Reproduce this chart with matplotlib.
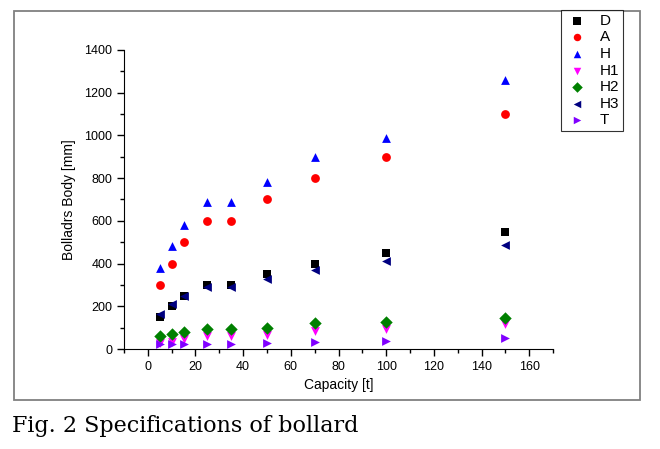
import matplotlib
matplotlib.use("Agg")
import matplotlib.pyplot as plt
from matplotlib.patches import Rectangle
from matplotlib.ticker import MultipleLocator

capacity = [5, 10, 15, 25, 35, 50, 70, 100, 150]
d_vals = [150, 200, 250, 300, 300, 350, 400, 450, 550]
a_vals = [300, 400, 500, 600, 600, 700, 800, 900, 1100]
h_vals = [380, 480, 580, 690, 690, 780, 900, 990, 1260]
h1_vals = [30, 35, 45, 62, 62, 65, 86, 92, 116]
h2_vals = [60, 70, 80, 95, 95, 100, 120, 125, 147]
h3_vals = [165, 210, 250, 290, 290, 330, 368, 410, 489]
t_vals = [22, 22, 22, 22, 25, 28, 31, 37, 50]

series = [
    ("D", d_vals, "s", "#000000"),
    ("A", a_vals, "o", "#ff0000"),
    ("H", h_vals, "^", "#0000ff"),
    ("H1", h1_vals, "v", "#ff00ff"),
    ("H2", h2_vals, "D", "#008000"),
    ("H3", h3_vals, "<", "#000080"),
    ("T", t_vals, ">", "#8000ff"),
]

plt.rcParams["font.family"] = ["Liberation Sans", "DejaVu Sans"]

fig = plt.figure(figsize=(6.6, 4.49), dpi=100)
fig.patches.append(Rectangle((14 / 660, 1 - 400 / 449), 626 / 660, 389 / 449,
                             transform=fig.transFigure, fill=False,
                             edgecolor="#808080", linewidth=1.3))

ax = fig.add_axes([124 / 660, 1 - 349 / 449, 429 / 660, 299 / 449])
handles = []
for name, vals, marker, color in series:
    h = ax.scatter(capacity, vals, marker=marker, s=40, color=color,
                   label=name, zorder=3, linewidths=0)
    handles.append(h)

ax.set_xlim(-10, 170)
ax.set_ylim(0, 1400)
ax.xaxis.set_major_locator(MultipleLocator(20))
ax.xaxis.set_minor_locator(MultipleLocator(10))
ax.yaxis.set_major_locator(MultipleLocator(200))
ax.yaxis.set_minor_locator(MultipleLocator(100))
ax.spines["top"].set_visible(False)
ax.spines["right"].set_visible(False)
ax.tick_params(which="major", direction="out", length=5, width=1, labelsize=9)
ax.tick_params(which="minor", direction="out", length=3, width=1)
ax.set_xticks([t for t in range(0, 161, 20)])
ax.set_xlabel("Capacity [t]", fontsize=10, labelpad=4)
ax.set_ylabel("Bolladrs Body [mm]", fontsize=10, labelpad=6)

leg = fig.legend(handles=handles, loc="upper left",
                 bbox_to_anchor=(561 / 660, 1 - 10 / 449),
                 borderaxespad=0, frameon=True, fancybox=False, fontsize=11,
                 handletextpad=0.7, borderpad=0.25, labelspacing=0.17,
                 handlelength=1.6, scatterpoints=1, markerscale=0.85)
leg.get_frame().set_edgecolor("#000000")
leg.get_frame().set_linewidth(0.8)

fig.text(12 / 660, 1 - 432 / 449, "Fig. 2 Specifications of bollard",
         family=["DejaVu Serif"], fontsize=16,
         va="baseline", ha="left")

fig.savefig("out.png", dpi=100)
